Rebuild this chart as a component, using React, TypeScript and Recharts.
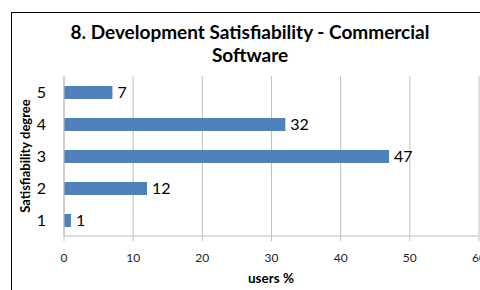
import React from 'react';
import { Bar, BarChart, CartesianGrid, LabelList, XAxis, YAxis } from 'recharts';

const degrees = ['1', '2', '3', '4', '5'];
const usersPercent = [1, 12, 47, 32, 7];
const xTicks = [0, 10, 20, 30, 40, 50, 60];

const chartData = degrees.map((degree, i) => ({ degree, users: usersPercent[i] }));

const font = 'Lato, "Liberation Sans", sans-serif';

const App: React.FC = () => {
  return (
    <div
      style={{
        position: 'absolute',
        left: 0,
        top: 0,
        width: 480,
        height: 290,
        overflow: 'hidden',
        background: '#fff',
        fontFamily: font,
      }}
    >
      <div
        style={{
          position: 'absolute',
          left: 11,
          top: 12,
          width: 520,
          height: 320,
          borderLeft: '1.5px solid #000',
          borderTop: '1.5px solid #000',
        }}
      />
      <div
        style={{
          position: 'absolute',
          left: 12,
          width: 476,
          top: 20,
          textAlign: 'center',
          fontWeight: 700,
          fontSize: 19,
          lineHeight: '23px',
          color: '#000',
        }}
      >
        8. Development Satisfiability - Commercial
        <br />
        Software
      </div>
      <div
        style={{
          position: 'absolute',
          left: 25,
          top: 156,
          transform: 'translate(-50%, -50%) rotate(-90deg)',
          whiteSpace: 'nowrap',
          fontWeight: 700,
          fontSize: 13,
          color: '#000',
        }}
      >
        Satisfiability degree
      </div>
      <div
        style={{
          position: 'absolute',
          left: 271,
          top: 278,
          transform: 'translate(-50%, -50%)',
          whiteSpace: 'nowrap',
          fontWeight: 700,
          fontSize: 13.5,
          color: '#000',
        }}
      >
        users %
      </div>
      <div style={{ position: 'absolute', left: 0, top: 0 }}>
        <BarChart
          width={480}
          height={290}
          data={chartData}
          layout="vertical"
          margin={{ top: 76, right: 1, left: 0, bottom: 0 }}
        >
          <CartesianGrid horizontal={false} stroke="#BFBFBF" strokeWidth={1} />
          <XAxis
            type="number"
            domain={[0, 60]}
            ticks={xTicks}
            height={54}
            stroke="#BFBFBF"
            tickSize={5}
            tickMargin={12}
            tick={{ fontSize: 12, fill: '#222', fontFamily: font }}
            interval={0}
          />
          <YAxis
            type="category"
            dataKey="degree"
            reversed
            width={64}
            stroke="#BFBFBF"
            tickSize={0}
            tickMargin={18}
            tick={{ fontSize: 16, fill: '#000', fontFamily: font }}
          />
          <Bar dataKey="users" fill="#4F81BD" barSize={13} isAnimationActive={false}>
            <LabelList
              dataKey="users"
              position="right"
              offset={5}
              style={{ fontSize: 16, fill: '#000', fontFamily: font }}
            />
          </Bar>
        </BarChart>
      </div>
    </div>
  );
};

export default App;
